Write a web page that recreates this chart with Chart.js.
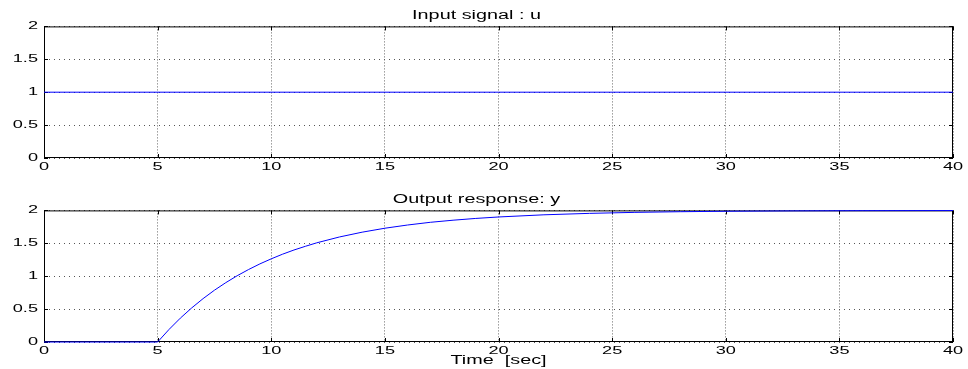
<!DOCTYPE html>
<html><head><meta charset="utf-8">
<script src="https://cdn.jsdelivr.net/npm/chart.js@4/dist/chart.umd.min.js"></script>
<style>
html,body{margin:0;padding:0;background:#fff;}
#wrap{position:relative;width:968px;height:369px;overflow:hidden;}
.box{position:absolute;left:0;width:968px;}
#b1{top:0;height:184px;}
#b2{top:184px;height:185px;}
</style></head><body>
<div id="wrap"><div class="box" id="b1"><canvas id="c1"></canvas></div><div class="box" id="b2"><canvas id="c2"></canvas></div></div>
<script>
const inputTitle = 'Input signal : u';
const outputTitle = 'Output response: y';
const xAxisTitle = 'Time  [sec]';
const xTicks = [0,5,10,15,20,25,30,35,40];
const xTickLabels = ['0','5','10','15','20','25','30','35','40'];
const yTicks = [0,0.5,1,1.5,2];
const yTickLabels = ['0','0.5','1','1.5','2'];
const inputTime = [0, 40];
const inputValues = [1, 1];
const outputTime = [0,5,5.5,6,6.5,7,7.5,8,8.5,9,9.5,10,10.5,11,11.5,12,13,14,15,16,17,18,19,20,22,24,26,28,30,33,36,40];
const outputValues = [0,0,0.190,0.363,0.518,0.659,0.787,0.902,1.007,1.101,1.187,1.264,1.335,1.398,1.454,1.507,1.596,1.669,1.729,1.778,1.819,1.851,1.878,1.900,1.933,1.955,1.970,1.980,1.987,1.993,1.996,1.998];

const FAMILY = "'Liberation Sans', Arial, sans-serif";
const STRETCH = 1.65;

function stretchText(ctx, sx){
  const orig = ctx.fillText.bind(ctx);
  ctx.fillText = function(t, x, y, maxW){
    ctx.save();
    ctx.translate(x, y);
    ctx.scale(sx, 1);
    if (maxW !== undefined) orig(t, 0, 0, maxW / sx); else orig(t, 0, 0);
    ctx.restore();
  };
}

const frame = {
  id: 'frame',
  beforeDatasetsDraw(chart){
    const {ctx, chartArea: a, scales} = chart;
    ctx.save();
    ctx.strokeStyle = '#000';
    ctx.lineWidth = 1;
    ctx.setLineDash([]);
    ctx.strokeRect(a.left + 0.5, a.top + 0.5, a.right - a.left - 1, a.bottom - a.top - 1);
    ctx.beginPath();
    const tl = 4;
    xTicks.forEach(v => {
      const px = Math.round(scales.x.getPixelForValue(v)) + 0.5;
      ctx.moveTo(px, a.bottom); ctx.lineTo(px, a.bottom - tl);
      ctx.moveTo(px, a.top); ctx.lineTo(px, a.top + tl);
    });
    yTicks.forEach(v => {
      const py = Math.round(scales.y.getPixelForValue(v)) + 0.5;
      ctx.moveTo(a.left, py); ctx.lineTo(a.left + tl, py);
      ctx.moveTo(a.right, py); ctx.lineTo(a.right - tl, py);
    });
    ctx.stroke();
    ctx.restore();
  }
};

function makeChart(canvasId, title, times, values, withXTitle, xHeight){
  const canvas = document.getElementById(canvasId);
  stretchText(canvas.getContext('2d'), STRETCH);
  return new Chart(canvas, {
    type: 'line',
    data: {
      datasets: [{
        data: times.map((t, i) => ({x: t, y: values[i]})),
        borderColor: '#0000ff',
        borderWidth: 1,
        pointRadius: 0,
        fill: false,
        tension: 0,
        clip: 2
      }]
    },
    options: {
      responsive: true,
      maintainAspectRatio: false,
      animation: false,
      events: [],
      layout: {padding: {left: 0, right: 15, top: 0, bottom: 0}},
      plugins: {
        legend: {display: false},
        tooltip: {enabled: false},
        title: {
          display: true, text: title, color: '#000',
          font: {family: FAMILY, size: 12, weight: 'normal'},
          padding: {top: 8, bottom: 4}
        }
      },
      scales: {
        x: {
          type: 'linear', min: 0, max: 40,
          afterBuildTicks: s => { s.ticks = xTicks.map(v => ({value: v})); },
          afterFit: s => { s.height = xHeight; },
          ticks: {
            callback: v => xTickLabels[xTicks.indexOf(v)],
            padding: 2, maxRotation: 0, autoSkip: false, color: '#000',
            font: {family: FAMILY, size: 11}
          },
          grid: {color: '#666', lineWidth: 1, drawTicks: false},
          border: {display: false, dash: [1, 2]},
          title: {
            display: withXTitle, text: xAxisTitle, color: '#000',
            font: {family: FAMILY, size: 12},
            padding: {top: 0, bottom: 1}
          }
        },
        y: {
          type: 'linear', min: 0, max: 2,
          afterBuildTicks: s => { s.ticks = yTicks.map(v => ({value: v})); },
          afterFit: s => { s.width = 44; },
          ticks: {
            callback: v => yTickLabels[yTicks.indexOf(v)],
            padding: 6, autoSkip: false, color: '#000',
            font: {family: FAMILY, size: 11}
          },
          grid: {color: '#555', lineWidth: 1, drawTicks: false},
          border: {display: false, dash: [1, 4]}
        }
      }
    },
    plugins: [frame]
  });
}

makeChart('c1', inputTitle, inputTime, inputValues, false, 26);
makeChart('c2', outputTitle, outputTime, outputValues, true, 27);
</script>
</body></html>
